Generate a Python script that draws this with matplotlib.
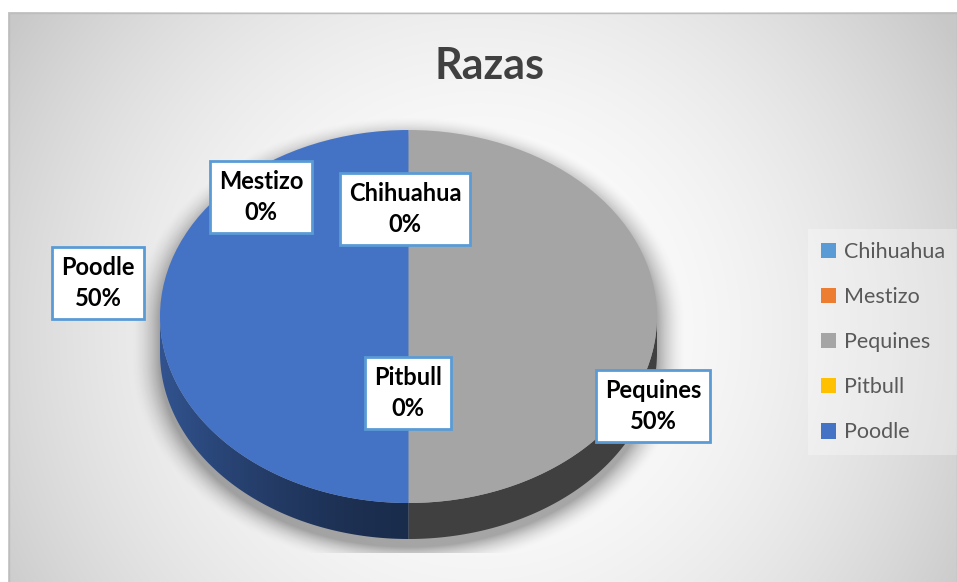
import numpy as np
import matplotlib.pyplot as plt
from matplotlib.patches import Polygon, Rectangle

plt.rcParams['font.family'] = ['Lato', 'DejaVu Sans']

# datos
razas = ['Chihuahua', 'Mestizo', 'Pequines', 'Pitbull', 'Poodle']
cantidad = [0, 0, 1, 0, 1]
colores = ['#5B9BD5', '#ED7D31', '#A5A5A5', '#FFC000', '#4472C4']

# where the data label boxes sit (pixel centres)
etiq_x = [405, 261, 653, 408, 98]
etiq_y = [209, 197, 406, 393, 283]

W, H = 957, 582
cx, cy, rx, ry, prof = 408.5, 316.5, 248.5, 186.5, 36

fig = plt.figure(figsize=(W / 100, H / 100), dpi=100)
fig.patch.set_facecolor('white')

# background with radial gradient + shadow of the pie
bg = fig.add_axes([0, 0, 1, 1])
bg.set_xlim(0, W)
bg.set_ylim(H, 0)
bg.axis('off')
xx, yy = np.meshgrid(np.arange(8, W) + 0.5, np.arange(12, H) + 0.5)
r = np.sqrt((xx - 480) ** 2 + (yy - 330) ** 2) / 560
gris = (255 - 55 * np.clip(r, 0, 1) ** 2) / 255
img = np.dstack([gris, gris, gris])
bg.imshow(img, extent=(8, W, H, 12), aspect='auto', zorder=0)

u = (xx - cx) / rx
dy = yy - (cy + 8)
v = np.where(dy < 0, dy, np.maximum(dy - prof, 0)) / ry
rr = np.sqrt(u ** 2 + v ** 2)
a = 0.33 * np.clip((1.12 - rr) / 0.12, 0, 1) ** 1.8
a[yy > 553] = 0
sombra = np.zeros(xx.shape + (4,))
sombra[..., 3] = a
bg.imshow(sombra, extent=(8, W, H, 12), aspect='auto', zorder=1)
bg.add_patch(Rectangle((8.5, 12.5), W - 9, H - 12, fill=False, ec='#BDBDBD', lw=1, zorder=2))

# pie axes: unit circle stretched into an ellipse
hpx = 2 * ry + prof + 12
pa = fig.add_axes([(cx - rx) / W, (H - (cy - ry + hpx)) / H, 2 * rx / W, hpx / H])
wedges, _ = pa.pie(cantidad, colors=colores, startangle=90, counterclock=False,
                   radius=1, wedgeprops=dict(linewidth=0))
pa.set_aspect('auto')
pa.axis('off')

# side walls of the 3D pie, from the wedge angles
d = prof / ry
gx = np.linspace(-1, 1, 400)
luz = 0.39 + 0.34 * np.clip(-gx, 0, 1) ** 1.6
for w, col in zip(wedges, colores):
    if abs(w.theta2 - w.theta1) < 1e-6:
        continue
    phi = np.radians(np.linspace(w.theta1, w.theta2, 400))
    phi = phi[np.sin(phi) <= 1e-9]
    if len(phi) < 2:
        continue
    arriba = np.column_stack([np.cos(phi), np.sin(phi)])
    abajo = np.column_stack([np.cos(phi[::-1]), np.sin(phi[::-1]) - d])
    poly = Polygon(np.vstack([arriba, abajo]), closed=True, fc='none', ec='none')
    pa.add_patch(poly)
    base = np.array(plt.matplotlib.colors.to_rgb(col))
    grad = np.clip(luz[None, :, None] * base[None, None, :], 0, 1)
    im = pa.imshow(grad, extent=(-1, 1, -1 - d, 0), aspect='auto', zorder=0.5)
    im.set_clip_path(poly)
for w in wedges:
    w.set_zorder(1)
pa.set_xlim(-1, 1)
pa.set_ylim(1 - hpx / ry, 1)

# overlay: title, data labels, legend
ov = fig.add_axes([0, 0, 1, 1])
ov.set_xlim(0, W)
ov.set_ylim(H, 0)
ov.axis('off')
ov.patch.set_alpha(0)

ov.text(490, 66, 'Razas', fontsize=31, fontweight='bold', color='#404040',
        ha='center', va='center')

total = sum(cantidad)
for nombre, val, x, y in zip(razas, cantidad, etiq_x, etiq_y):
    pct = round(100 * val / total)
    ov.text(x, y, f'{nombre}\n{pct}%', ha='center', va='center', fontsize=17,
            fontweight='bold', color='black', linespacing=1.45,
            bbox=dict(boxstyle='square,pad=0.38', fc='white', ec='#5B9BD5', lw=2))

leg = ov.legend(wedges, razas, loc='upper left', bbox_to_anchor=(808, 229),
                bbox_transform=ov.transData, frameon=True, fancybox=False,
                facecolor='white', framealpha=0.3, edgecolor='none',
                fontsize=15.5, labelcolor='#595959', borderpad=0.59,
                handlelength=0.72, handleheight=0.72, handletextpad=0.38,
                labelspacing=1.17, borderaxespad=0)

fig.savefig('out.png', dpi=100)
